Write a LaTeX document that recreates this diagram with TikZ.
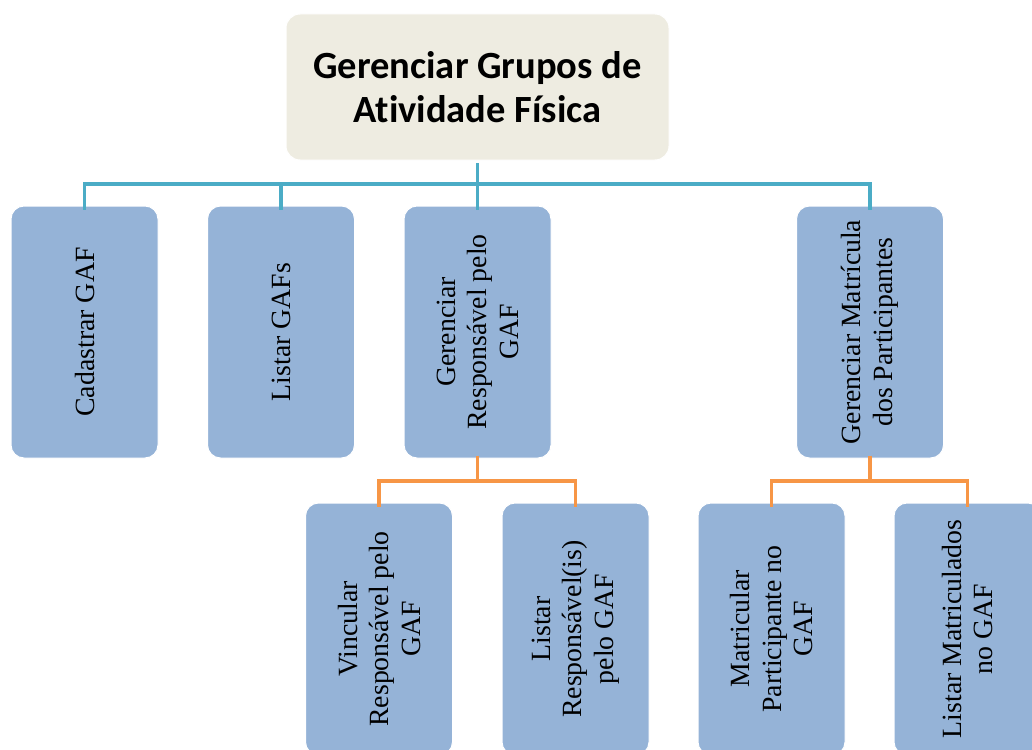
\documentclass[tikz,border=0pt]{standalone}
\usepackage{fontspec}
\setmainfont{Liberation Serif}
\newfontfamily\titlefont[Ligatures={NoCommon}]{Carlito}
\definecolor{boxblue}{HTML}{95B3D7}
\definecolor{topbeige}{HTML}{EEECE1}
\definecolor{teal}{HTML}{4BACC6}
\definecolor{orng}{HTML}{F79646}
\begin{document}
\begin{tikzpicture}[x=1pt,y=-1pt,
  topbox/.style={draw=white,line width=1pt,fill=topbeige,rounded corners=14pt,minimum width=383pt,minimum height=146pt,inner sep=0pt,align=center,font=\titlefont\bfseries\fontsize{38.5}{44}\selectfont},
  leaf/.style={draw=white,line width=1pt,fill=boxblue,rounded corners=13pt,minimum width=252pt,minimum height=147pt,inner sep=0pt,rotate=90,align=center,font=\fontsize{27.8}{31.5}\selectfont},
  tconn/.style={draw=teal,line width=3.5pt},
  oconn/.style={draw=orng,line width=3.5pt}]
\useasboundingbox (0,0) rectangle (1032,749);
\clip (0,0) rectangle (1032,749);
\fill[white] (0,0) rectangle (1032,749);
\node[topbox] (root) at (477.5,87) {Gerenciar Grupos de\\Atividade Física};
\node[leaf] (a) at (84.5,332) {Cadastrar GAF};
\node[leaf] (b) at (281,332) {Listar GAFs};
\node[leaf] (c) at (477.5,332) {Gerenciar\\Responsável pelo\\GAF};
\node[leaf] (d) at (870,332) {Gerenciar Matrícula\\dos Participantes};
\node[leaf] (c1) at (379,629) {Vincular\\Responsável pelo\\GAF};
\node[leaf] (c2) at (575.5,629) {Listar\\Responsável(is)\\pelo GAF};
\node[leaf] (d1) at (771.5,629) {Matricular\\Participante no\\GAF};
\node[leaf] (d2) at (967.5,629) {Listar Matriculados\\no GAF};
\coordinate (rb) at (477.5,163);
\coordinate (hy) at (0,184);
\draw[tconn] (rb) -- (rb|-hy);
\draw[tconn] ([yshift=-4pt]a.east) -- (a.east|-hy) -- (d.east|-hy) -- ([yshift=-4pt]d.east);
\draw[tconn] (b.east|-hy) -- ([yshift=-4pt]b.east);
\draw[tconn] (c.east|-hy) -- ([yshift=-4pt]c.east);
\coordinate (oy) at (0,481);
\draw[oconn] ([yshift=3pt]c.west) -- (c.west|-oy);
\draw[oconn] ([yshift=-4pt]c1.east) -- (c1.east|-oy) -- (c2.east|-oy) -- ([yshift=-4pt]c2.east);
\draw[oconn] ([yshift=3pt]d.west) -- (d.west|-oy);
\draw[oconn] ([yshift=-4pt]d1.east) -- (d1.east|-oy) -- (d2.east|-oy) -- ([yshift=-4pt]d2.east);
\end{tikzpicture}
\end{document}
